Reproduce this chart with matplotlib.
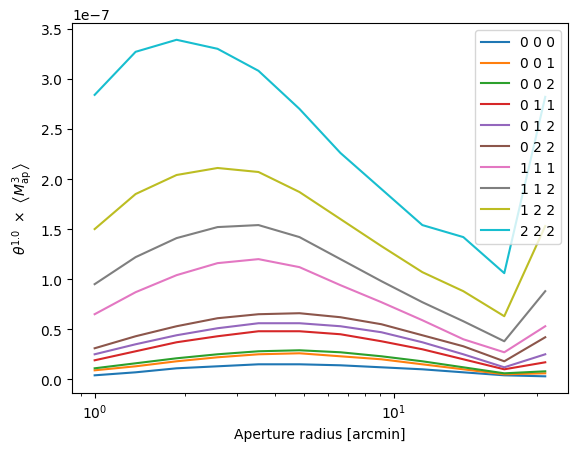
import matplotlib
matplotlib.use("Agg")
import matplotlib.pyplot as plt
import numpy as np

# aperture radii [arcmin], log spaced
theta = np.geomspace(1.0, 32.0, 12)

labels = ['0 0 0', '0 0 1', '0 0 2', '0 1 1', '0 1 2',
          '0 2 2', '1 1 1', '1 1 2', '1 2 2', '2 2 2']

# theta^1.0 * <Map^3>, in units of 1e-7
m000 = [0.04, 0.07, 0.11, 0.13, 0.15, 0.15, 0.14, 0.12, 0.10, 0.07, 0.04, 0.03]
m001 = [0.09, 0.13, 0.18, 0.22, 0.25, 0.26, 0.23, 0.20, 0.15, 0.10, 0.05, 0.06]
m002 = [0.11, 0.16, 0.21, 0.25, 0.28, 0.29, 0.27, 0.23, 0.18, 0.12, 0.06, 0.08]
m011 = [0.19, 0.28, 0.37, 0.43, 0.48, 0.48, 0.45, 0.38, 0.30, 0.20, 0.10, 0.17]
m012 = [0.25, 0.35, 0.44, 0.51, 0.56, 0.56, 0.53, 0.47, 0.37, 0.25, 0.12, 0.25]
m022 = [0.31, 0.43, 0.53, 0.61, 0.65, 0.66, 0.62, 0.55, 0.44, 0.33, 0.18, 0.42]
m111 = [0.65, 0.87, 1.04, 1.16, 1.20, 1.12, 0.94, 0.77, 0.59, 0.40, 0.27, 0.53]
m112 = [0.95, 1.22, 1.41, 1.52, 1.54, 1.42, 1.20, 0.98, 0.77, 0.58, 0.38, 0.88]
m122 = [1.50, 1.85, 2.04, 2.11, 2.07, 1.87, 1.60, 1.33, 1.07, 0.88, 0.63, 1.53]
m222 = [2.84, 3.27, 3.39, 3.30, 3.08, 2.70, 2.26, 1.90, 1.54, 1.42, 1.06, 2.82]

series = [m000, m001, m002, m011, m012, m022, m111, m112, m122, m222]

fig, ax = plt.subplots(figsize=(5.77, 4.52), dpi=100)
fig.subplots_adjust(left=0.125, right=0.984, top=0.947, bottom=0.128)

for vals, lab in zip(series, labels):
    ax.plot(theta, np.array(vals) * 1e-7, label=lab)

ax.set_xscale('log')
ax.set_xlabel('Aperture radius [arcmin]')
ax.set_ylabel(r'$\theta^{1.0}\ \times\ \left\langle M_{\rm ap}^3\right\rangle$')
ax.legend(loc='upper right')

fig.savefig('out.png', dpi=100)
